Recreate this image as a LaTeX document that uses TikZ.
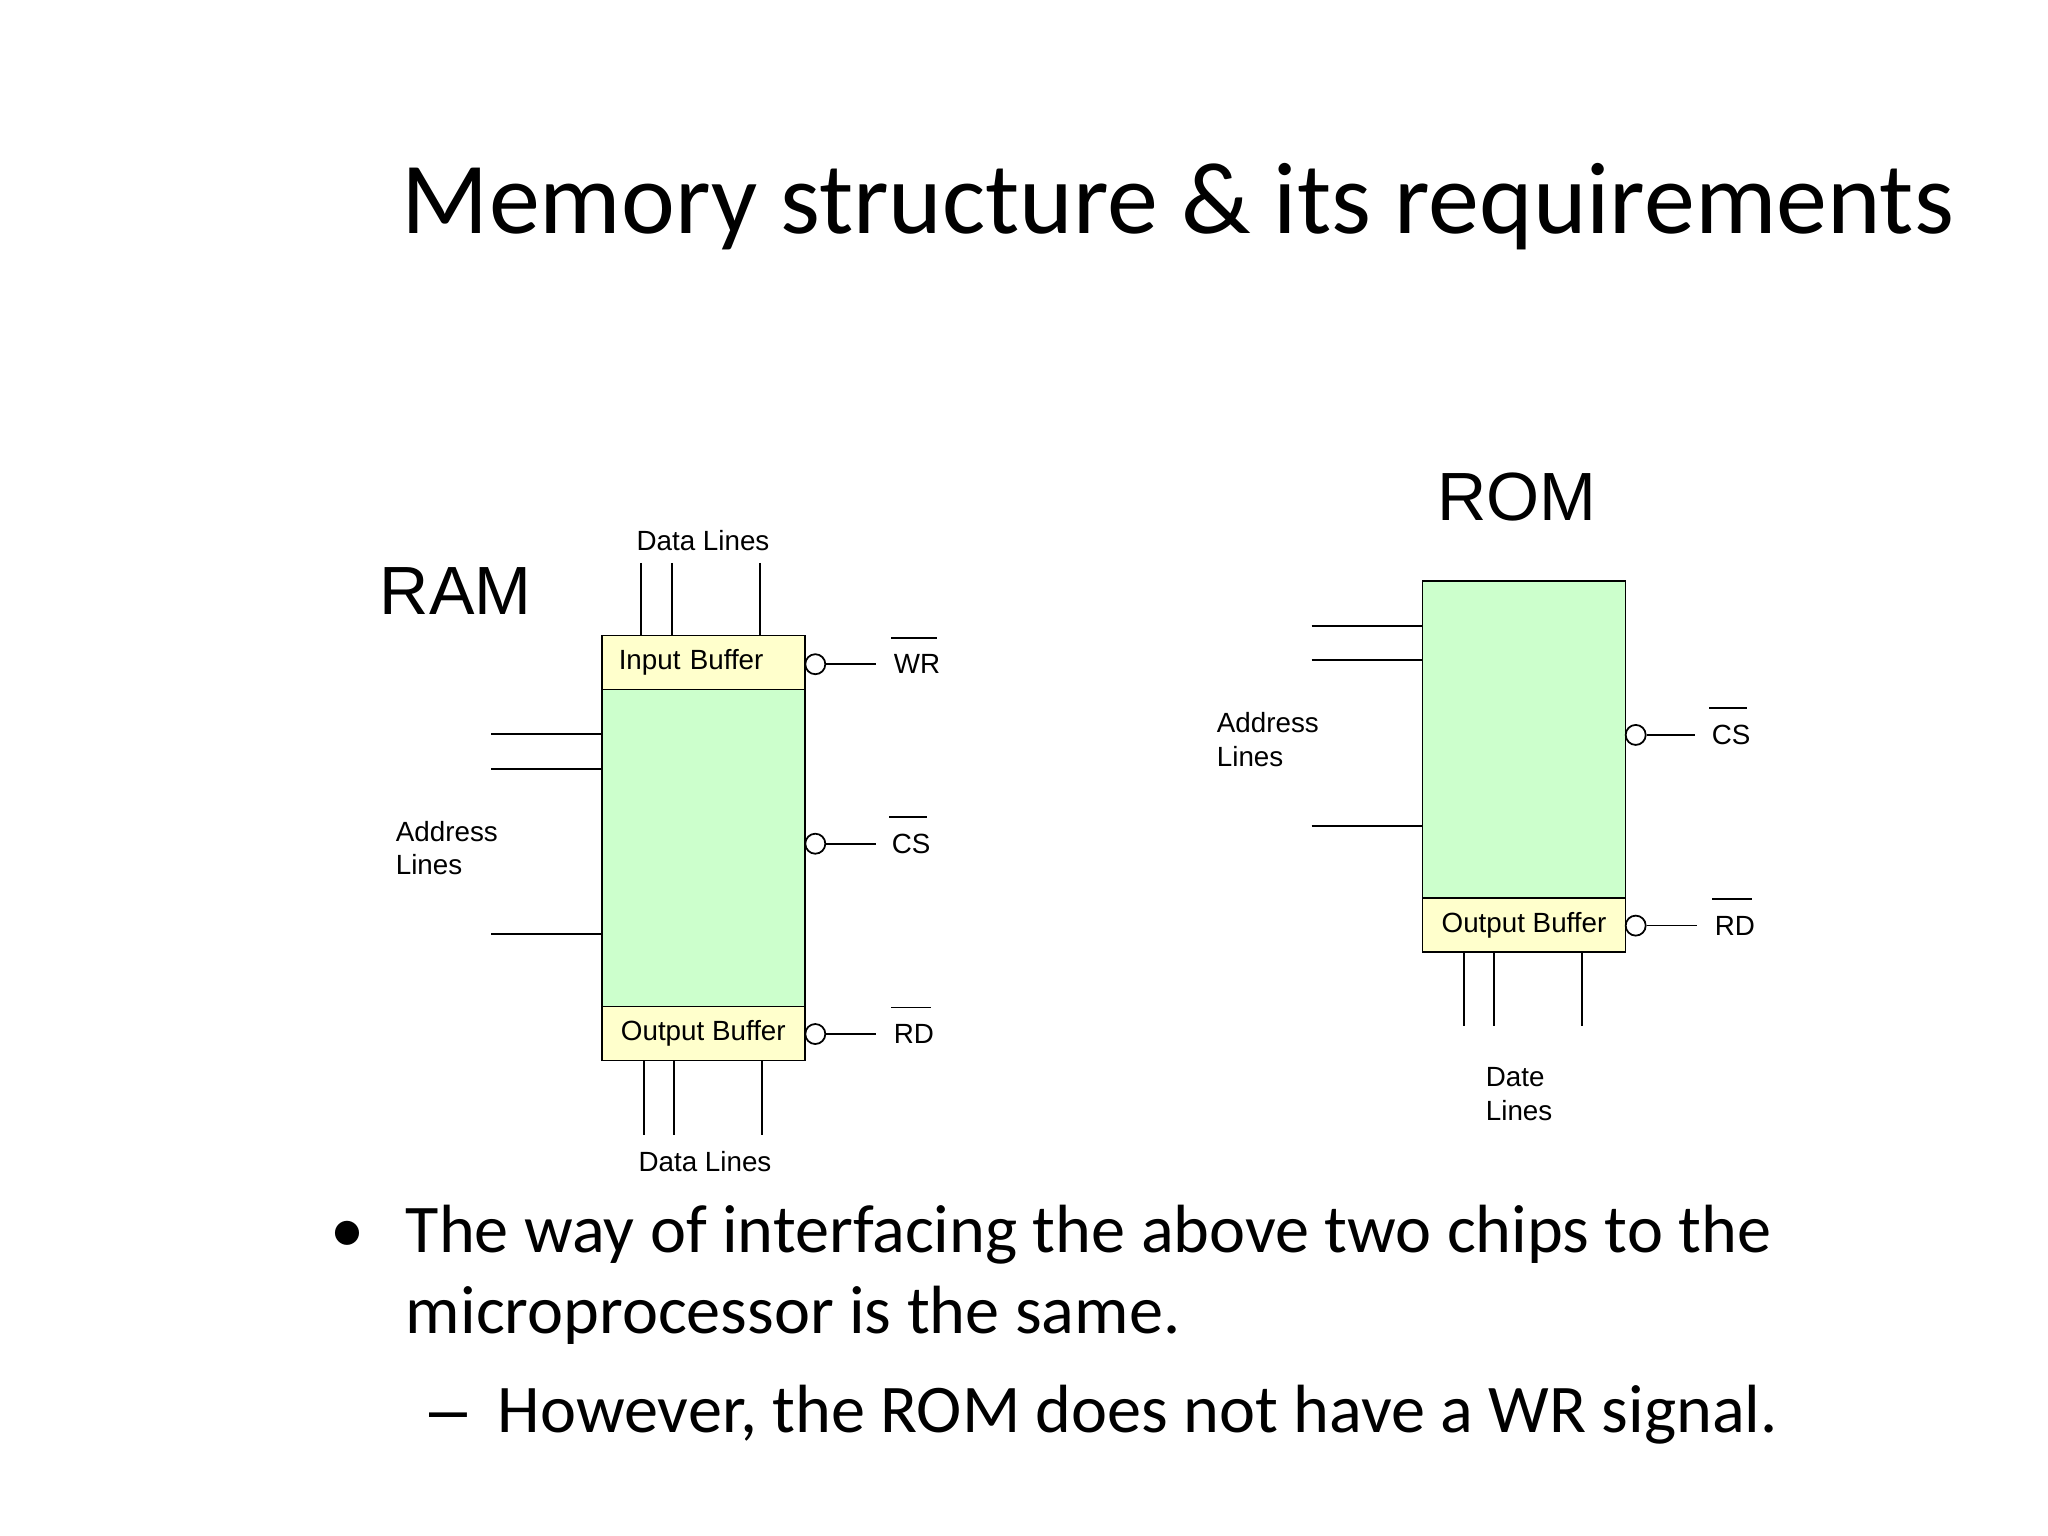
\documentclass[tikz,border=0pt]{standalone}
\usepackage{fontspec}
\setmainfont{Carlito}
\newfontfamily\diagfont{Liberation Sans}
\definecolor{memgreen}{HTML}{CCFFCC}
\definecolor{bufyellow}{HTML}{FFFFCC}
\begin{document}
\begin{tikzpicture}[x=0.01cm,y=-0.01cm,line width=0.5pt,
  core/.style={draw,fill=memgreen,minimum width=2.03cm,minimum height=3.17cm,inner sep=0pt},
  buffer/.style={draw,fill=bufyellow,minimum width=2.03cm,minimum height=0.54cm,inner sep=0pt,font=\diagfont\fontsize{7.9}{9}\selectfont},
  bubble/.style={draw,fill=white,circle,minimum size=0.2cm,inner sep=0pt},
  lbl/.style={font=\diagfont\fontsize{7.9}{9.6}\selectfont,inner sep=0pt,align=left},
  chipname/.style={font=\diagfont\fontsize{19.4}{22}\selectfont,inner sep=0pt},
  slide/.style={anchor=base west,inner sep=0pt,font=\fontsize{19.4}{23}\selectfont}]
\useasboundingbox (0,0) rectangle (2048,1536);

\node[anchor=base west,inner sep=0pt,font=\fontsize{29}{35}\selectfont] (title) at (401,233) {Memory structure \& its requirements};

\node[chipname,anchor=base west] (ramname) at (379,614.4) {RAM};
\node[core] (ramcore) at (703.3,847.9) {};
\node[buffer,text width=1.69cm,inner xsep=0.17cm,align=left] (ramin) at (703.3,662.4) {Input Buffer};
\node[buffer] (ramout) at (703.3,1033.4) {Output Buffer};

\node[lbl] (ramdtop) at (703,540.4) {Data Lines};
\node[lbl] (ramdbot) at (705,1161.9) {Data Lines};
\node[lbl,anchor=west] (ramaddr) at (395,848) {Address\\Lines};

\foreach \x in {641,672,760}
{
    \coordinate (t\x) at (\x,562.8);
    \draw (t\x) -- (t\x |- ramin.north);
}
\foreach \x in {644,674,762}
{
    \coordinate (b\x) at (\x,1134.9);
    \draw (b\x) -- (b\x |- ramout.south);
}
\foreach \y in {734,769,934}
{
    \coordinate (a\y) at (491,\y);
    \draw (a\y) -- (a\y -| ramcore.west);
}

\node[bubble] (ramwr) at (815.3,664.2) {};
\node[bubble] (ramcs) at (815.3,843.7) {};
\node[bubble] (ramrd) at (815.3,1034) {};
\node[lbl,anchor=west] (ramwrl) at (893,664.2) {WR};
\node[lbl,anchor=west] (ramcsl) at (891,843.7) {CS};
\node[lbl,anchor=west] (ramrdl) at (893,1034) {RD};
\draw (ramwr) -- ([xshift=-0.17cm]ramwrl.west);
\draw (ramcs) -- ([xshift=-0.15cm]ramcsl.west);
\draw (ramrd) -- ([xshift=-0.17cm]ramrdl.west);

\node[chipname,anchor=base] (romname) at (1517,520.9) {ROM};
\node[core] (romcore) at (1524,739.5) {};
\node[buffer] (romout) at (1524,925) {Output Buffer};

\node[lbl,anchor=west] (romaddr) at (1216,739.5) {Address\\Lines};
\node[lbl,anchor=west] (romdata) at (1485,1094) {Date\\Lines};

\foreach \x in {1464,1494,1582}
{
    \coordinate (r\x) at (\x,1025.7);
    \draw (r\x) -- (r\x |- romout.south);
}
\foreach \y in {626,660,826}
{
    \coordinate (q\y) at (1311.5,\y);
    \draw (q\y) -- (q\y -| romcore.west);
}

\node[bubble] (romcs) at (1635.7,734.9) {};
\node[bubble] (romrd) at (1635.7,925.6) {};
\node[lbl,anchor=west] (romcsl) at (1711,734.9) {CS};
\node[lbl,anchor=west] (romrdl) at (1714,925.6) {RD};
\draw (romcs) -- ([xshift=-0.165cm]romcsl.west);
\draw (romrd) -- ([xshift=-0.175cm]romrdl.west);

\foreach \n in {ramwrl,ramcsl,ramrdl,romcsl,romrdl}
{
    \draw ([xshift=-0.02cm,yshift=0.16cm]\n.north west) -- ([xshift=-0.04cm,yshift=0.16cm]\n.north east);
}

\node[slide] (dot) at (330,1252) {•};
\node[slide] (line1) at (405,1252) {The way of interfacing the above two chips to the};
\node[slide] (line2) at (405,1333) {microprocessor is the same.};
\node[slide,font=\diagfont\fontsize{19.4}{23}\selectfont] (dash) at (429,1432) {–};
\node[slide] (line3) at (497,1432) {However, the ROM does not have a WR signal.};

\end{tikzpicture}
\end{document}
